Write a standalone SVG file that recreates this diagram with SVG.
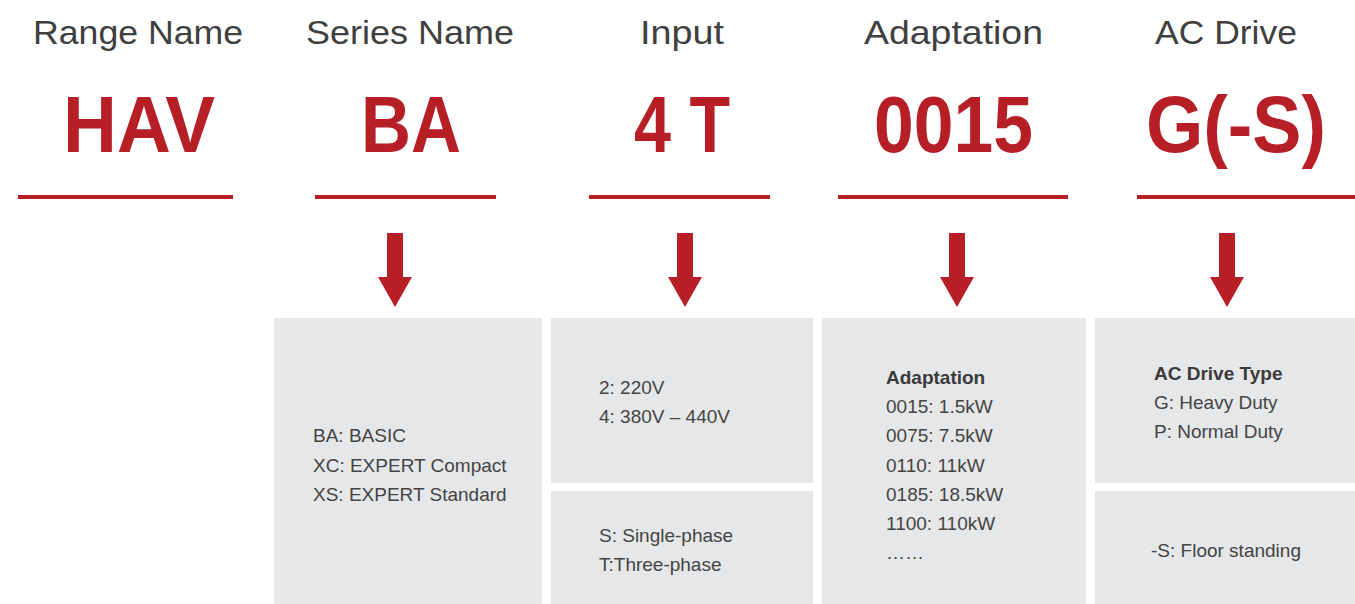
<svg xmlns="http://www.w3.org/2000/svg" width="1355" height="604" viewBox="0 0 1355 604">
<defs>
<style>
.hdr{font-family:"Liberation Sans",Arial,sans-serif;font-size:33px;fill:#404040;text-anchor:middle}
.code{font-family:"Liberation Sans",Arial,sans-serif;font-size:79px;font-weight:bold;fill:#b71f26;text-anchor:middle}
.rule{fill:#b71f26}
.arrow{fill:#b71f26}
.box{fill:#e6e7e8}
.t{font-family:"Liberation Sans",Arial,sans-serif;font-size:19px;fill:#444444}
.b{font-weight:bold;fill:#3a3a3a}
</style>
</defs>
<rect width="1355" height="604" fill="#ffffff"/>

<g id="range">
<text class="hdr" x="138" y="44" textLength="210" lengthAdjust="spacingAndGlyphs">Range Name</text>
<text class="code" x="139" y="152" textLength="152" lengthAdjust="spacingAndGlyphs">HAV</text>
<rect class="rule" x="18" y="195" width="215" height="4"/>
</g>

<g id="series">
<text class="hdr" x="410" y="44" textLength="208" lengthAdjust="spacingAndGlyphs">Series Name</text>
<text class="code" x="411" y="152" textLength="100" lengthAdjust="spacingAndGlyphs">BA</text>
<rect class="rule" x="315" y="195" width="181" height="4"/>
<rect class="box" x="274" y="318" width="268" height="286"/>
<text class="t" x="313" y="442">BA: BASIC</text>
<text class="t" x="313" y="471.5">XC: EXPERT Compact</text>
<text class="t" x="313" y="501">XS: EXPERT Standard</text>
</g>

<g id="input">
<text class="hdr" x="682" y="44" textLength="84" lengthAdjust="spacingAndGlyphs">Input</text>
<text class="code" x="682" y="152" textLength="96" lengthAdjust="spacingAndGlyphs">4 T</text>
<rect class="rule" x="589" y="195" width="181" height="4"/>
<rect class="box" x="551" y="318" width="262" height="165"/>
<rect class="box" x="551" y="491" width="262" height="113"/>
<text class="t" x="599" y="394">2: 220V</text>
<text class="t" x="599" y="423">4: 380V – 440V</text>
<text class="t" x="599" y="542">S: Single-phase</text>
<text class="t" x="599" y="571">T:Three-phase</text>
</g>

<g id="adaptation">
<text class="hdr" x="953.5" y="44" textLength="179" lengthAdjust="spacingAndGlyphs">Adaptation</text>
<text class="code" x="953.5" y="152" textLength="159" lengthAdjust="spacingAndGlyphs">0015</text>
<rect class="rule" x="838" y="195" width="230" height="4"/>
<rect class="box" x="822" y="318" width="264" height="286"/>
<text class="t b" x="886" y="384">Adaptation</text>
<text class="t" x="886" y="413">0015: 1.5kW</text>
<text class="t" x="886" y="442">0075: 7.5kW</text>
<text class="t" x="886" y="471.5">0110: 11kW</text>
<text class="t" x="886" y="500.5">0185: 18.5kW</text>
<text class="t" x="886" y="529.5">1100: 110kW</text>
<text class="t" x="886" y="559">……</text>
</g>

<g id="acdrive">
<text class="hdr" x="1226" y="44" textLength="142" lengthAdjust="spacingAndGlyphs">AC Drive</text>
<text class="code" x="1236" y="152" textLength="180" lengthAdjust="spacingAndGlyphs">G(-S)</text>
<rect class="rule" x="1137" y="195" width="218" height="4"/>
<rect class="box" x="1095" y="318" width="260" height="165"/>
<rect class="box" x="1095" y="491" width="260" height="113"/>
<text class="t b" x="1154" y="380">AC Drive Type</text>
<text class="t" x="1154" y="409">G: Heavy Duty</text>
<text class="t" x="1154" y="438">P: Normal Duty</text>
<text class="t" x="1151" y="557">-S: Floor standing</text>
</g>

<g id="connectors">
<path class="arrow" d="M387 233H403V277H412L395 307L378 277H387Z"/>
<path class="arrow" d="M677 233H693V277H702L685 307L668 277H677Z"/>
<path class="arrow" d="M949 233H965V277H974L957 307L940 277H949Z"/>
<path class="arrow" d="M1219 233H1235V277H1244L1227 307L1210 277H1219Z"/>
</g>
</svg>
